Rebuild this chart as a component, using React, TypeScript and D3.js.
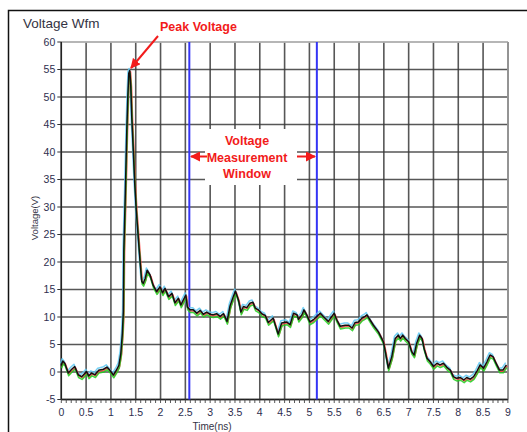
import { line, scaleLinear } from "d3";

// waveform (time in ns, volts)
const timeNs = [
    0.0, 0.03, 0.07, 0.14, 0.21, 0.27, 0.34, 0.41, 0.47, 0.51, 0.55, 0.61, 0.68, 0.75, 0.85, 0.92, 0.98,
    1.05, 1.12, 1.16, 1.2, 1.23, 1.25, 1.26, 1.29, 1.32, 1.34, 1.36, 1.38, 1.4, 1.42, 1.45, 1.48, 1.51,
    1.55, 1.59, 1.62, 1.65, 1.69, 1.73, 1.79, 1.85, 1.92, 1.99, 2.04, 2.09, 2.16, 2.23, 2.29, 2.36, 2.41,
    2.46, 2.51, 2.54, 2.59, 2.66, 2.73, 2.8, 2.86, 2.93, 3.0, 3.06, 3.13, 3.2, 3.27, 3.34, 3.4, 3.47,
    3.51, 3.57, 3.62, 3.67, 3.74, 3.8, 3.86, 3.91, 3.97, 4.04, 4.11, 4.17, 4.27, 4.37, 4.44, 4.54, 4.61,
    4.68, 4.75, 4.78, 4.85, 4.89, 4.95, 5.01, 5.08, 5.15, 5.22, 5.28, 5.38, 5.45, 5.5, 5.55, 5.62, 5.72,
    5.79, 5.86, 5.92, 5.99, 6.06, 6.12, 6.16, 6.22, 6.29, 6.39, 6.49, 6.53, 6.59, 6.66, 6.73, 6.79, 6.83,
    6.88, 6.93, 7.0, 7.06, 7.11, 7.16, 7.22, 7.27, 7.31, 7.37, 7.43, 7.5, 7.57, 7.63, 7.7, 7.77, 7.84,
    7.9, 7.97, 8.04, 8.11, 8.17, 8.24, 8.31, 8.37, 8.44, 8.51, 8.58, 8.64, 8.7, 8.76, 8.83, 8.9, 8.97,
];
const voltage = [
    1.2, 2.0, 1.6, -0.2, 0.5, 1.0, -0.5, -0.85, -0.3, 0.1, -0.7, -0.2, -0.5, 0.3, 0.5, 0.9, 0.3,
    -0.55, 0.5, 1.2, 3.4, 7, 11, 22, 32.5, 44, 50, 54.3, 54.8, 52, 46.4, 40.4, 34.3, 29.5,
    24.6, 19.8, 16.5, 16.1, 17, 18.5, 17.6, 15.8, 14.6, 15.5, 14.4, 15.2, 13.7, 14.3, 12.6, 13.4, 12.2,
    13.1, 14.0, 11.8, 11.3, 11.3, 10.7, 11.2, 10.5, 10.9, 10.5, 10.4, 10.6, 10.1, 10.6, 9.2, 12.0, 13.8,
    14.7, 13.1, 10.9, 11.9, 11.7, 12.5, 12.7, 11.6, 11.3, 10.6, 10.3, 9.0, 9.8, 6.9, 8.9, 9.1, 8.6,
    10.7, 10.4, 9.6, 10.4, 11.3, 10.3, 9.1, 9.5, 10.1, 10.7, 10.1, 9.2, 10.1, 10.7, 9.5, 8.3, 8.5,
    8.5, 8.0, 9.0, 9.1, 9.8, 10.1, 10.4, 9.5, 8.5, 7.3, 5.5, 3.7, 0.7, 2.8, 6.1, 6.7, 6.1,
    6.7, 6.1, 5.5, 3.7, 3.1, 5.2, 6.7, 6.1, 4.3, 2.5, 1.9, 1.0, 1.6, 1.3, 1.6, 0.85, 0.35,
    -0.85, -1.15, -1.0, -1.45, -1.0, -1.3, -0.85, 0.05, 1.3, 0.7, 1.9, 3.1, 2.8, 1.6, 0.35, 0.35, 1.3,
];

// overlaid acquisitions: small skew in time / offset in volts vs the black one
const traceNames = ["run 2", "run 3", "run 4", "run 1"];
const traceColors = ["#5ec8f2", "#ff4040", "#1fcf1f", "#111111"];
const traceSkewNs = [-0.015, 0.016, 0.008, 0];
const traceOffsetV = [0.4, -0.2, -0.5, 0];

const xTicks = [0, 0.5, 1, 1.5, 2, 2.5, 3, 3.5, 4, 4.5, 5, 5.5, 6, 6.5, 7, 7.5, 8, 8.5, 9];
const xTickLabels = ["0", "0.5", "1", "1.5", "2", "2.5", "3", "3.5", "4", "4.5", "5", "5.5", "6", "6.5", "7", "7.5", "8", "8.5", "9"];
const yTicks = [-5, 0, 5, 10, 15, 20, 25, 30, 35, 40, 45, 50, 55, 60];
const windowNs = [2.58, 5.15];

const W = 527;
const H = 432;
const font = "'Liberation Sans', Arial, sans-serif";

function App() {
    const x = scaleLinear().domain([0, 9]).range([61.3, 507.9]);
    const y = scaleLinear().domain([-5, 60]).range([399.5, 42]);

    const minorTicks: number[] = [];
    for (let i = 0; i <= 90; i++) minorTicks.push(i / 10);

    const mkLine = (k: number) =>
        line<number>()
            .x((_, i) => x(timeNs[i] + traceSkewNs[k]))
            .y((d) => y(d + traceOffsetV[k]))(voltage) || "";

    const gridCol = "#3a3a3a";
    const red = "#f21b1b";

    return (
        <svg
            width={W}
            height={H}
            style={{ position: "absolute", left: 0, top: 0, background: "#fff" }}
        >
            <defs>
                <marker id="ah" viewBox="0 0 10 10" refX="9" refY="5" markerWidth="5" markerHeight="5" orient="auto">
                    <path d="M0,0 L10,5 L0,10 z" fill={red} />
                </marker>
            </defs>
            {/* panel frame */}
            <rect x={8.5} y={10.5} width={540} height={440} fill="none" stroke="#111" strokeWidth={1.5} />
            <text x={23} y={28} fontFamily={font} fontSize={13.5} fill="#333344">
                Voltage Wfm
            </text>

            {/* grid */}
            {xTicks.map((t) => (
                <line key={"gx" + t} x1={x(t)} x2={x(t)} y1={y(60)} y2={y(-5)} stroke={gridCol} strokeWidth={1.6} opacity={0.85} />
            ))}
            {yTicks.map((v) => (
                <line key={"gy" + v} x1={x(0)} x2={x(9)} y1={y(v)} y2={y(v)} stroke={gridCol} strokeWidth={1.6} opacity={0.85} />
            ))}
            <line x1={x(0)} x2={x(9)} y1={y(60)} y2={y(60)} stroke="#c8c8c8" strokeWidth={1.6} />
            <line x1={x(9)} x2={x(9)} y1={y(60)} y2={y(-5)} stroke="#999" strokeWidth={1.6} />

            {/* axes */}
            <line x1={x(0)} x2={x(0)} y1={y(60)} y2={y(-5)} stroke="#222" strokeWidth={1.4} />
            <line x1={x(0)} x2={x(9)} y1={y(-5)} y2={y(-5)} stroke="#222" strokeWidth={1.4} />
            {yTicks.map((v) => (
                <g key={"ty" + v}>
                    <line x1={x(0) - 4} x2={x(0)} y1={y(v)} y2={y(v)} stroke="#333" />
                    <text x={x(0) - 6} y={y(v) + 3.5} textAnchor="end" fontFamily={font} fontSize={10.5} fill="#2e2e4e">
                        {v}
                    </text>
                </g>
            ))}
            {minorTicks.map((t) => (
                <line key={"mt" + t} x1={x(t)} x2={x(t)} y1={y(-5)} y2={y(-5) + 3.5} stroke="#444" strokeWidth={0.9} />
            ))}
            {xTicks.map((t, i) => (
                <text key={"tx" + t} x={x(t)} y={416} textAnchor="middle" fontFamily={font} fontSize={10.5} fill="#2e2e4e">
                    {xTickLabels[i]}
                </text>
            ))}
            <text x={212} y={430} textAnchor="middle" fontFamily={font} fontSize={10} fill="#333344">
                Time(ns)
            </text>
            <text
                transform={`translate(38, ${218}) rotate(-90)`}
                textAnchor="middle"
                fontFamily={font}
                fontSize={9.5}
                fill="#333344"
            >
                Voltage(V)
            </text>

            {/* measurement window */}
            <rect x={205} y={129} width={92} height={56} fill="#fff" />
            {windowNs.map((t) => (
                <line key={"w" + t} x1={x(t)} x2={x(t)} y1={y(60)} y2={y(-5)} stroke="#3535f5" strokeWidth={2} />
            ))}

            {/* waveforms */}
            {traceNames.map((n, k) => (
                <path
                    key={n}
                    d={mkLine(k)}
                    fill="none"
                    stroke={traceColors[k]}
                    strokeWidth={1.5}
                    strokeLinejoin="round"
                    opacity={k === 3 ? 1 : 0.85}
                />
            ))}

            {/* annotations */}
            <text x={160} y={31} fontFamily={font} fontWeight="bold" fontSize={12.5} fill={red}>
                Peak Voltage
            </text>
            <line x1={158} y1={36} x2={131} y2={68} stroke={red} strokeWidth={2} markerEnd="url(#ah)" />
            <g fontFamily={font} fontWeight="bold" fontSize={12.5} fill={red} textAnchor="middle">
                <text x={247} y={145}>Voltage</text>
                <text x={247} y={161.5}>Measurement</text>
                <text x={247} y={178}>Window</text>
            </g>
            <line x1={207} y1={156.5} x2={191} y2={156.5} stroke={red} strokeWidth={2} markerEnd="url(#ah)" />
            <line x1={297} y1={156.5} x2={315} y2={156.5} stroke={red} strokeWidth={2} markerEnd="url(#ah)" />
        </svg>
    );
}

export default App;
